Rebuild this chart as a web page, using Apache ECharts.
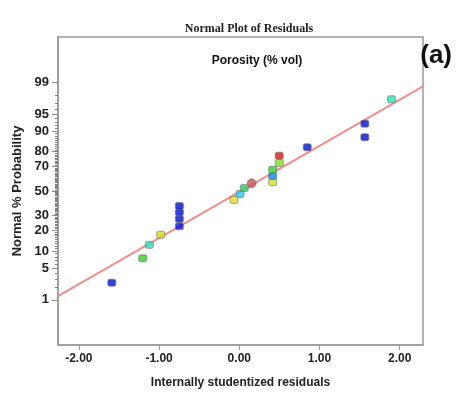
<!DOCTYPE html>
<html>
<head>
<meta charset="utf-8">
<script src="https://cdn.jsdelivr.net/npm/echarts@6/dist/echarts.min.js"></script>
<style>
html,body{margin:0;padding:0;background:#fff;}
#chart{width:457px;height:395px;}
</style>
</head>
<body>
<div id="chart"></div>
<script>
// ---- data ----
const residuals = [-1.589, -1.203, -1.121, -0.979, -0.747, -0.747, -0.747, -0.747, -0.066, 0.009, 0.062, 0.154, 0.416, 0.416, 0.416, 0.498, 0.498, 0.847, 1.565, 1.565, 1.898];
const probabilities = [2.5, 7.5, 12.5, 17.5, 22.5, 27.5, 32.5, 37.5, 42.5, 47.5, 52.5, 56.5, 57.5, 62.5, 67.5, 72.5, 77.5, 82.5, 87.5, 92.5, 97.5];
const fitLineX = [-2.26, 2.29];
const fitLineZ = [-2.246, 2.236];
const xTicks = [-2, -1, 0, 1, 2];
const yTickPercents = [1, 5, 10, 20, 30, 50, 70, 80, 90, 95, 99];
const yMinorPercents = [2, 3, 4, 6, 7, 8, 9, 11, 12, 13, 14, 15, 16, 17, 18, 19, 21, 22, 23, 24, 25, 26, 27, 28, 29, 31, 32, 33, 34, 35, 36, 37, 38, 39, 40, 41, 42, 43, 44, 45, 46, 47, 48, 49, 51, 52, 53, 54, 55, 56, 57, 58, 59, 60, 61, 62, 63, 64, 65, 66, 67, 68, 69, 71, 72, 73, 74, 75, 76, 77, 78, 79, 81, 82, 83, 84, 85, 86, 87, 88, 89, 91, 92, 93, 94, 96, 97, 98];

// ---- styles (not data) ----
const pointColors = ['#0210d0', '#3ccc30', '#30dcc0', '#d6d81c', '#0210d0', '#0210d0', '#0210d0', '#0210d0', '#e6dc1c', '#22ccee', '#30d066', '#c05454', '#d0e020', '#1284ee', '#30d030', '#86e020', '#e01414', '#0210d0', '#0210d0', '#0210d0', '#30e0b4'];
const pointSymbols = ['roundRect','roundRect','roundRect','roundRect','roundRect','roundRect','roundRect','roundRect','roundRect','roundRect','roundRect','circle','roundRect','roundRect','roundRect','roundRect','roundRect','roundRect','roundRect','roundRect','roundRect'];

// probit (inverse normal CDF), Acklam's approximation
function probit(p) {
  const a = [-3.969683028665376e+01, 2.209460984245205e+02, -2.759285104469687e+02, 1.383577518672690e+02, -3.066479806614716e+01, 2.506628277459239e+00];
  const b = [-5.447609879822406e+01, 1.615858368580409e+02, -1.556989798598866e+02, 6.680131188771972e+01, -1.328068155288572e+01];
  const c = [-7.784894002430293e-03, -3.223964580411365e-01, -2.400758277161838e+00, -2.549732539343734e+00, 4.374664141464968e+00, 2.938163982698783e+00];
  const d = [7.784695709041462e-03, 3.224671290700398e-01, 2.445134137142996e+00, 3.754408661907416e+00];
  const pl = 0.02425, ph = 1 - pl;
  let q, r;
  if (p < pl) {
    q = Math.sqrt(-2 * Math.log(p));
    return (((((c[0]*q+c[1])*q+c[2])*q+c[3])*q+c[4])*q+c[5]) / ((((d[0]*q+d[1])*q+d[2])*q+d[3])*q+1);
  } else if (p <= ph) {
    q = p - 0.5; r = q * q;
    return (((((a[0]*r+a[1])*r+a[2])*r+a[3])*r+a[4])*r+a[5])*q / (((((b[0]*r+b[1])*r+b[2])*r+b[3])*r+b[4])*r+1);
  } else {
    q = Math.sqrt(-2 * Math.log(1 - p));
    return -(((((c[0]*q+c[1])*q+c[2])*q+c[3])*q+c[4])*q+c[5]) / ((((d[0]*q+d[1])*q+d[2])*q+d[3])*q+1);
  }
}

const yTickZ = yTickPercents.map(p => probit(p / 100));
const yMinorZ = yMinorPercents.map(p => probit(p / 100));
const zMax = probit(0.9995);

const pointData = residuals.map((x, i) => ({
  value: [x, probit(probabilities[i] / 100)],
  symbol: pointSymbols[i],
  symbolSize: pointSymbols[i] === 'circle' ? 9 : [8, 7],
  itemStyle: { color: pointColors[i] }
}));

const lineData = fitLineX.map((x, i) => [x, fitLineZ[i]]);

const axisGray = '#9a9a9a';
const chart = echarts.init(document.getElementById('chart'), null, { renderer: 'canvas' });
chart.setOption({
  animation: false,
  backgroundColor: '#ffffff',
  title: [
    { text: 'Normal Plot of Residuals', left: 244, top: 18, textAlign: 'center',
      textStyle: { fontFamily: 'Liberation Serif', fontWeight: 'bold', fontSize: 12, color: '#222' } },
    { text: 'Porosity (% vol)', left: 252, top: 50, textAlign: 'center',
      textStyle: { fontFamily: 'Liberation Sans', fontWeight: 'bold', fontSize: 12, color: '#111' } },
    { text: '(a)', right: 0, top: 38,
      textStyle: { fontFamily: 'Liberation Sans', fontWeight: 'bold', fontSize: 26, color: '#111' } }
  ],
  grid: { left: 58, right: 34, top: 37, bottom: 50, show: true, borderColor: axisGray, borderWidth: 1.5, backgroundColor: 'transparent' },
  xAxis: {
    type: 'value', min: -2.26, max: 2.29,
    name: 'Internally studentized residuals', nameLocation: 'middle', nameGap: 32,
    nameTextStyle: { fontFamily: 'Liberation Sans', fontWeight: 'bold', fontSize: 12, color: '#222' },
    splitLine: { show: false },
    axisLine: { show: true, onZero: false, lineStyle: { color: axisGray, width: 1.5 } },
    axisTick: { show: true, customValues: xTicks, length: 5, lineStyle: { color: axisGray } },
    axisLabel: { customValues: xTicks, margin: 8, fontFamily: 'Liberation Sans', fontWeight: 'bold', fontSize: 12, color: '#222',
      formatter: v => v.toFixed(2) }
  },
  yAxis: [
    {
      type: 'value', min: -zMax, max: zMax, position: 'left',
      name: 'Normal % Probability', nameLocation: 'middle', nameGap: 34, nameRotate: 90,
      nameTextStyle: { fontFamily: 'Liberation Sans', fontWeight: 'bold', fontSize: 13, color: '#222' },
      splitLine: { show: false },
      axisLine: { show: true, onZero: false, lineStyle: { color: axisGray, width: 1.5 } },
      axisTick: { show: true, customValues: yTickZ, length: 6, lineStyle: { color: '#888' } },
      axisLabel: { customValues: yTickZ, margin: 9, fontFamily: 'Liberation Sans', fontWeight: 'bold', fontSize: 13, color: '#222',
        formatter: v => {
          let best = yTickPercents[0], bd = 1e9;
          yTickZ.forEach((z, i) => { const dd = Math.abs(z - v); if (dd < bd) { bd = dd; best = yTickPercents[i]; } });
          return String(best);
        } }
    },
    {
      type: 'value', min: -zMax, max: zMax, position: 'left', offset: 0,
      splitLine: { show: false },
      axisLine: { show: false, onZero: false },
      axisTick: { show: true, customValues: yMinorZ, length: 3, lineStyle: { color: '#808080' } },
      axisLabel: { show: false }
    }
  ],
  series: [
    {
      type: 'line', data: lineData, showSymbol: false, symbol: 'none', silent: true, z: 1,
      lineStyle: { color: '#f28c8c', width: 2 }
    },
    {
      type: 'scatter', data: pointData, z: 3,
      itemStyle: { borderColor: '#707070', borderWidth: 0.8 }
    }
  ]
});
</script>
</body>
</html>
